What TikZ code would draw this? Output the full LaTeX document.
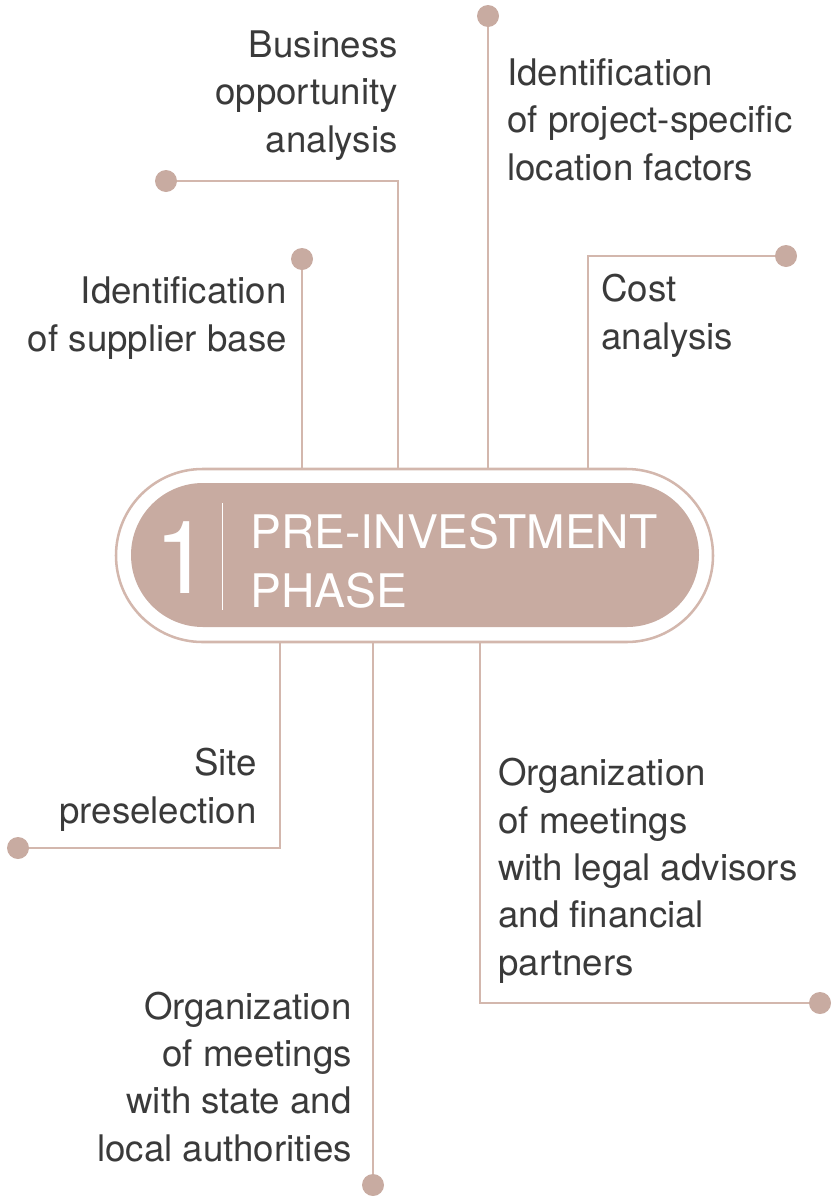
\documentclass[tikz,border=0pt]{standalone}
\usepackage{fontspec}
\setmainfont{TeX Gyre Heros}
\usetikzlibrary{shapes.misc}
\definecolor{rose}{HTML}{C8ABA1}
\definecolor{roseline}{HTML}{D3B7AD}
\definecolor{txt}{HTML}{3A3A3A}
\begin{document}
\begin{tikzpicture}[x=0.75pt,y=-0.75pt,
  dot/.style={circle,fill=rose,inner sep=0pt,minimum size=16.5pt},
  conn/.style={draw=roseline,line width=1.9pt},
  lbl/.style={font=\fontsize{27.5}{35.5}\selectfont,text=txt,inner sep=0pt},
  pilltxt/.style={font=\fontsize{34.7}{44}\selectfont,text=white,inner sep=0pt,align=left}
]
\useasboundingbox (0,0) rectangle (832,1196);
% pill
\node[rounded rectangle,draw=roseline,line width=1.9pt,minimum width=447.75pt,minimum height=129.75pt,inner sep=0pt] (outer) at (414.5,555.5) {};
\node[rounded rectangle,fill=rose,minimum width=426pt,minimum height=108pt,inner sep=0pt] (inner) at (415,555) {};
\node[font=\fontsize{76}{80}\selectfont,text=white,inner sep=0pt,anchor=base west] (num) at (154,593) {1};
\coordinate (divt) at (222.6,503);
\coordinate (divb) at (222.6,610);
\draw[white,line width=1.1pt] (divt) -- (divb);
\node[pilltxt,anchor=base west] (phase) at (250,607) {PRE-INVESTMENT\\PHASE};
% dots
\node[dot] (d1) at (302,259) {};
\node[dot] (d2) at (166,181) {};
\node[dot] (d3) at (488,16) {};
\node[dot] (d4) at (786,256) {};
\node[dot] (d5) at (18,848) {};
\node[dot] (d6) at (373,1185) {};
\node[dot] (d7) at (820,1003) {};
\coordinate (c2) at (398,181);
\coordinate (c4) at (588,256);
\coordinate (c5) at (280,848);
\coordinate (c7) at (480,1003);
% connectors
\draw[conn] (d1) -- (d1 |- outer.north);
\draw[conn] (d2) -- (c2) -- (c2 |- outer.north);
\draw[conn] (d3) -- (d3 |- outer.north);
\draw[conn] (d4) -- (c4) -- (c4 |- outer.north);
\draw[conn] (d5) -- (c5) -- (c5 |- outer.south);
\draw[conn] (d6) -- (d6 |- outer.south);
\draw[conn] (d7) -- (c7) -- (c7 |- outer.south);
% labels (base anchor = baseline of last line)
\node[lbl,align=right,anchor=base east] (l2) at (398,152) {Business\\opportunity\\analysis};
\node[lbl,align=left,anchor=base west] (l3) at (507,180) {Identification\\of project-specific\\location factors};
\node[lbl,align=right,anchor=base east] (l1) at (287,351) {Identification\\of supplier base};
\node[lbl,align=left,anchor=base west] (l4) at (601,349) {Cost\\analysis};
\node[lbl,align=right,anchor=base east] (l5) at (257,823) {Site\\preselection};
\node[lbl,align=left,anchor=base west] (l7) at (498,975) {Organization\\of meetings\\with legal advisors\\and financial\\partners};
\node[lbl,align=right,anchor=base east] (l6) at (352,1161) {Organization\\of meetings\\with state and\\local authorities};
\end{tikzpicture}
\end{document}
